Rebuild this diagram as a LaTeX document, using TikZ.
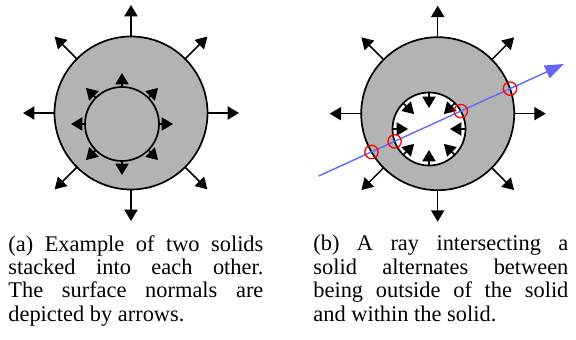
\documentclass[tikz,border=0pt]{standalone}
\usepackage{fontspec}
\setmainfont{Liberation Serif}
\usetikzlibrary{arrows.meta,intersections}
\definecolor{solidgray}{RGB}{179,179,179}
\definecolor{raycol}{RGB}{102,102,255}
\begin{document}
\begin{tikzpicture}[x=0.5pt,y=-0.5pt,
  solidfill/.style={draw=black,line width=0.85pt,fill=solidgray},
  holefill/.style={draw=black,line width=0.85pt,fill=white},
  normal/.style={line width=0.75pt,-{Triangle[length=5.7pt,width=6.6pt]}},
  raystyle/.style={draw=raycol,line width=0.7pt,-{Triangle[length=9.5pt,width=6.8pt]}},
  hit/.style={draw=red,line width=0.65pt},
  captext/.style={text width=127.5pt,align=justify,inner sep=0pt,anchor=north west,
    font=\fontsize{11.2pt}{11.7pt}\selectfont}]
\useasboundingbox (0,0) rectangle (576,340);
% ---------- (a) ----------
\coordinate (ao) at (131,113);
\coordinate (ai) at (122,124);
\fill[solidgray] (ao) circle (76.5);
\draw[line width=0.85pt] (ao) circle (76.5);
\foreach \a in {0,45,...,315}
  \draw[normal,shift={(ao)}] (\a:76.5) -- (\a:108);
\draw[line width=0.85pt] (ai) circle (37);
\foreach \a in {0,45,...,315}
  \draw[normal,shift={(ai)}] (\a:37) -- (\a:51);
% ---------- (b) ----------
\coordinate (bo) at (437.7,113.7);
\coordinate (bi) at (429,129);
\draw[solidfill,name path=outerb] (bo) circle (76.5);
\foreach \a in {0,45,...,315}
  \draw[normal,shift={(bo)}] (\a:76.5) -- (\a:108);
\draw[holefill,name path=innerb] (bi) circle (36.5);
\foreach \a in {0,45,...,315}
  \draw[normal,shift={(bi)}] (\a:36.5) -- (\a:21);
\coordinate (rs) at (318.7,176);
\coordinate (re) at (564,64);
\path[name path=ray] (rs) -- (re);
\draw[raystyle] (rs) -- (re);
\path[name intersections={of=ray and outerb,name=po}];
\path[name intersections={of=ray and innerb,name=pi}];
\draw[hit] (po-1) circle (6.7);
\draw[hit] (po-2) circle (6.7);
\draw[hit] (pi-1) circle (6.7);
\draw[hit] (pi-2) circle (6.7);
% ---------- captions ----------
\node[captext] (capa) at (8,235) {(a) Example of two solids\linebreak stacked into each other.\linebreak The surface normals are\linebreak depicted by arrows.};
\node[captext] (capb) at (313,235) {(b) A ray intersecting a\linebreak solid alternates between\linebreak being outside of the solid\linebreak and within the solid.};
\end{tikzpicture}
\end{document}
